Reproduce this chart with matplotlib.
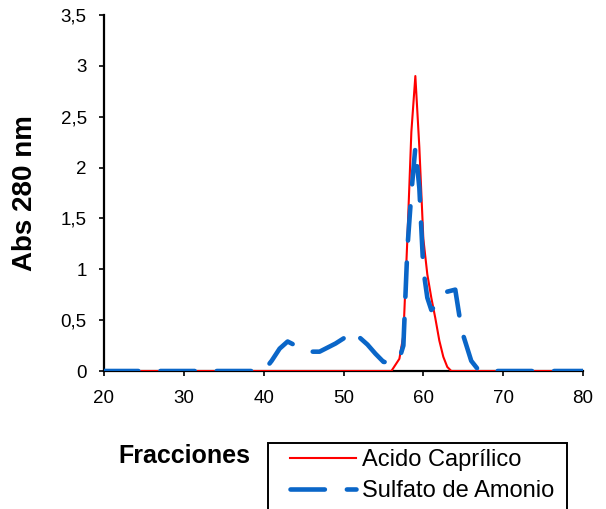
import matplotlib
matplotlib.use("Agg")
import matplotlib.pyplot as plt
from matplotlib.patches import Rectangle

plt.rcParams['font.family'] = ['Liberation Sans', 'DejaVu Sans']

# Data
frac_caprilico = [20, 56, 57, 57.5, 58, 58.5, 59, 59.5, 60, 60.5, 61, 61.5, 62, 62.5, 63, 63.5, 80]
abs_caprilico = [0, 0, 0.12, 0.35, 1.3, 2.35, 2.9, 2.2, 1.3, 0.95, 0.72, 0.52, 0.3, 0.14, 0.04, 0, 0]

frac_sulfato = [20, 40, 41, 42, 43, 44, 45, 46, 47, 48, 49, 50, 50.7, 52, 53, 54, 55, 56,
                57, 57.5, 58, 58.5, 59, 59.5, 60, 60.5, 61, 62, 63, 64, 64.5, 65, 66, 67, 80]
abs_sulfato = [0, 0, 0.1, 0.22, 0.29, 0.25, 0.2, 0.19, 0.19, 0.23, 0.27, 0.32, 0.39, 0.33, 0.26, 0.17, 0.09, 0.08,
               0.12, 0.25, 1.2, 1.75, 2.2, 1.8, 1.0, 0.72, 0.6, 0.68, 0.78, 0.8, 0.55, 0.35, 0.1, 0, 0]

xticks = [20, 30, 40, 50, 60, 70, 80]
yticks = [0, 0.5, 1, 1.5, 2, 2.5, 3, 3.5]
yticklabels = ["0", "0,5", "1", "1,5", "2", "2,5", "3", "3,5"]

W, H = 606, 509
fig = plt.figure(figsize=(W/100, H/100), dpi=100)
ax = fig.add_axes([104/W, 1-371/H, (583-104)/W, (371-15)/H])

ax.plot(frac_caprilico, abs_caprilico, color='#ff0000', lw=1.5, label='Acido Caprílico', zorder=3)
ax.plot(frac_sulfato, abs_sulfato, color='#0a66c8', lw=3.3, dashes=(7.5, 4.8),
        dash_capstyle='round', solid_capstyle='round', label='Sulfato de Amonio', zorder=4)

ax.set_xlim(20, 80)
ax.set_ylim(0, 3.5)
ax.set_xticks(xticks)
ax.set_yticks(yticks)
ax.set_yticklabels(yticklabels)
for s in ['top', 'right']:
    ax.spines[s].set_visible(False)
for s in ['left', 'bottom']:
    ax.spines[s].set_linewidth(1.6)
    ax.spines[s].set_color('black')
ax.tick_params(direction='out', length=3.5, width=1.2, labelsize=13.5)
ax.tick_params(axis='x', pad=10)
ax.tick_params(axis='y', pad=9)

ax.set_ylabel('Abs 280 nm', fontsize=20, fontweight='bold')
ax.yaxis.set_label_coords((38-104)/479, 0.5)
fig.text(184/W, 1-456/H, 'Fracciones', fontsize=18, fontweight='bold', ha='center', va='center')

leg = ax.legend(loc='upper left', bbox_to_anchor=(290/W, 1-449/H), bbox_transform=fig.transFigure,
                borderaxespad=0, borderpad=0, fontsize=17, frameon=False,
                handlelength=2.8, handletextpad=0.26, labelspacing=0.4)
fig.patches.append(Rectangle((268/W, 1-530/H), (567-268)/W, (530-443)/H, transform=fig.transFigure,
                             fill=False, edgecolor='black', linewidth=1.4, zorder=5))

fig.savefig('out.png', dpi=100)
